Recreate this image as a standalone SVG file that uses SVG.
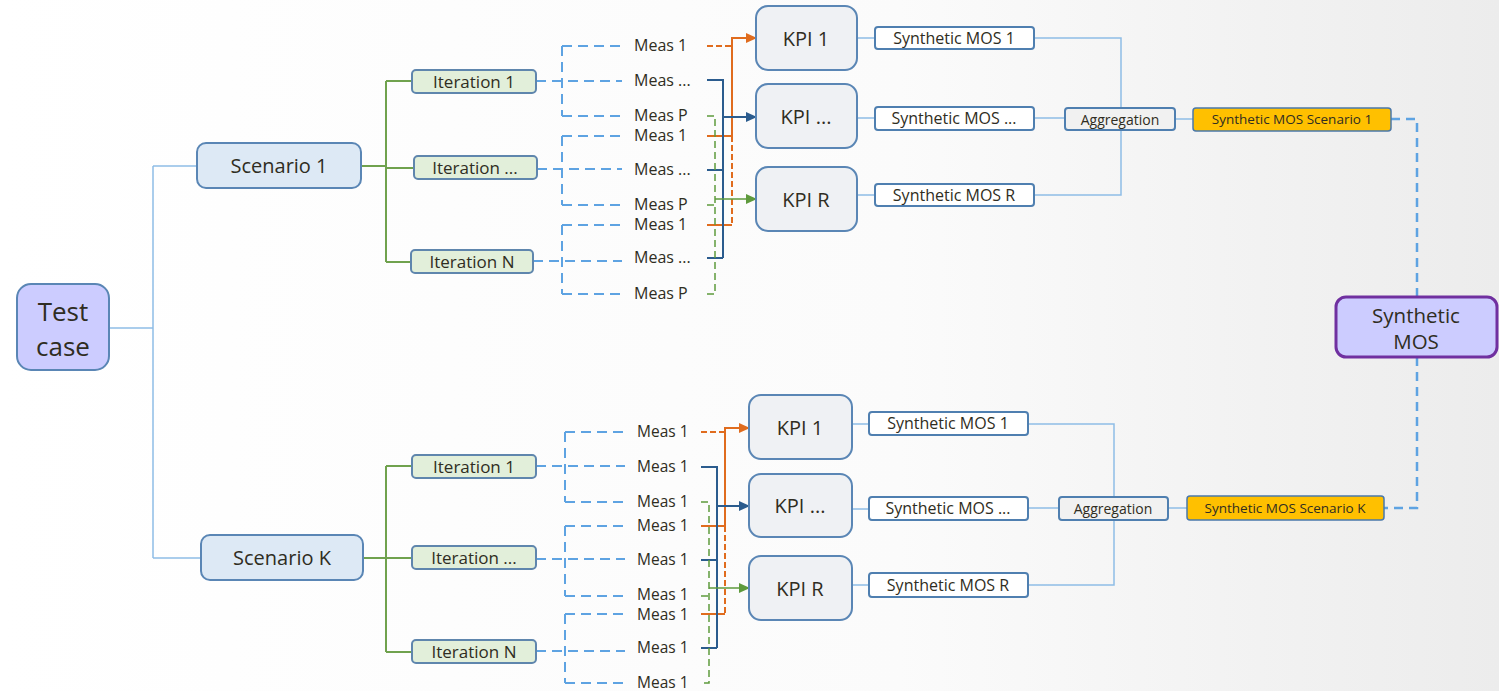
<svg xmlns="http://www.w3.org/2000/svg" width="1499" height="691" viewBox="0 0 1499 691">
<defs>
<linearGradient id="bg" x1="0" y1="0" x2="1" y2="0">
<stop offset="0" stop-color="#ffffff"/>
<stop offset="0.6" stop-color="#fbfbfb"/>
<stop offset="1" stop-color="#ececec"/>
</linearGradient>
<marker id="aO" markerUnits="userSpaceOnUse" markerWidth="11" markerHeight="10" refX="10" refY="5" orient="auto"><path d="M0,0 L11,5 L0,10 z" fill="#e06c1e"/></marker>
<marker id="aB" markerUnits="userSpaceOnUse" markerWidth="11" markerHeight="10" refX="10" refY="5" orient="auto"><path d="M0,0 L11,5 L0,10 z" fill="#2b5c8e"/></marker>
<marker id="aG" markerUnits="userSpaceOnUse" markerWidth="11" markerHeight="10" refX="10" refY="5" orient="auto"><path d="M0,0 L11,5 L0,10 z" fill="#5e9a3c"/></marker>
<style>
text{font-family:"Open Sans","Noto Sans","DejaVu Sans",sans-serif;fill:#2f2d22;text-anchor:middle;dominant-baseline:central}
.tc{fill:#ccccff;stroke:#5a86b5;stroke-width:2}
.sc{fill:#dde9f5;stroke:#5a86b5;stroke-width:2}
.it{fill:#e2efda;stroke:#5f86ad;stroke-width:2}
.kpi{fill:#eff1f4;stroke:#5a86b5;stroke-width:2}
.sm{fill:#ffffff;stroke:#4f7fb0;stroke-width:2}
.ag{fill:#f1f1f1;stroke:#4f7fb0;stroke-width:2}
.ss{fill:#ffc000;stroke:#4a78aa;stroke-width:1.5}
.fin{fill:#ccccff;stroke:#7030a0;stroke-width:3}
.lb{fill:none;stroke:#8fbde6;stroke-width:1.5}
.gr{fill:none;stroke:#70a24e;stroke-width:2}
.dsh{fill:none;stroke:#5ea3e2;stroke-width:2;stroke-dasharray:10 6}
.o{fill:none;stroke:#e06c1e;stroke-width:2}
.od{fill:none;stroke:#e06c1e;stroke-width:2;stroke-dasharray:6 3}
.b{fill:none;stroke:#2b5c8e;stroke-width:2}
.g{fill:none;stroke:#5e9a3c;stroke-width:1.5}
.gd{fill:none;stroke:#5e9a3c;stroke-width:1.5;stroke-dasharray:7 4}
.meas{font-size:16px;text-anchor:start}
.measb{font-size:15.5px;text-anchor:start}
.fdash{fill:none;stroke:#5ea3e2;stroke-width:2.5;stroke-dasharray:9 6}
</style>
</defs>
<rect width="1499" height="691" fill="url(#bg)"/>

<g id="connectors">
<path class="lb" d="M109 328 H153 M153 166 V558 M153 166 H197 M153 558 H201"/>
<path class="gr" d="M361 166 H386 M386 81 V262 M386 81 H412 M386 168 H414 M386 262 H411"/>
<path class="gr" d="M363 558 H386 M386 466 V652 M386 466 H412 M386 558 H412 M386 652 H412"/>
<path class="dsh" d="M536 81 H622 M562 46 V116 M562 46 H622 M562 116 H622"/>
<path class="dsh" d="M537 169 H622 M562 136 V205 M562 136 H622 M562 205 H622"/>
<path class="dsh" d="M533 261 H622 M562 225 V294 M562 225 H622 M562 294 H622"/>
<path class="dsh" d="M536 466 H625 M565 432 V502 M565 432 H625 M565 502 H625"/>
<path class="dsh" d="M536 559 H625 M565 526 V596 M565 526 H625 M565 596 H625"/>
<path class="dsh" d="M536 651 H625 M565 614 V683 M565 614 H625 M565 683 H625"/>
<path class="od" d="M707 46 H732 M732 136 V225"/>
<path class="o" d="M707 136 H732 M707 225 H732"/>
<path class="o" d="M732 136 V38 H756" marker-end="url(#aO)"/>
<path class="b" d="M707 80 H723 V258 M707 170 H723 M707 258 H723"/>
<path class="b" d="M723 117 H756" marker-end="url(#aB)"/>
<path class="gd" d="M707 116 H715 V294 H707 M707 205 H715"/>
<path class="g" d="M715 199 H756" marker-end="url(#aG)"/>
<path class="od" d="M701 432 H725 M725 526 V614"/>
<path class="o" d="M701 526 H725 M701 614 H725"/>
<path class="o" d="M725 526 V428 H749" marker-end="url(#aO)"/>
<path class="b" d="M701 467 H717 V648 M701 560 H717 M701 648 H717"/>
<path class="b" d="M717 506 H749" marker-end="url(#aB)"/>
<path class="gd" d="M701 502 H709 V683 H701 M701 596 H709"/>
<path class="g" d="M709 588 H749" marker-end="url(#aG)"/>
<path class="lb" d="M857 38 H875 M857 118 H875 M857 195 H875 M1034 38 H1121 V195 H1034 M1034 118 H1065 M1175 119 H1193"/>
<path class="lb" d="M852 424 H869 M852 509 H869 M852 585 H869 M1028 424 H1114 V585 H1028 M1028 508 H1059 M1168 508 H1187"/>
<path class="fdash" d="M1391 119 H1417 V297 M1417 357 V508 H1384"/>
</g>

<g id="test-case"><rect class="tc" x="17" y="284" width="92" height="86" rx="14"/><text x="63" y="311" font-size="26">Test</text><text x="63" y="346" font-size="26">case</text></g>
<g id="scenario-1"><rect class="sc" x="197" y="143" width="164" height="45" rx="9"/><text x="279" y="165" font-size="20">Scenario 1</text></g>
<g id="scenario-k"><rect class="sc" x="201" y="535" width="162" height="45" rx="9"/><text x="282" y="557" font-size="20">Scenario K</text></g>

<g id="iter-1a"><rect class="it" x="412" y="70" width="124" height="23" rx="4"/><text x="474" y="81" font-size="17">Iteration 1</text></g>
<g id="iter-2a"><rect class="it" x="414" y="156" width="123" height="23" rx="4"/><text x="475" y="167" font-size="17">Iteration ...</text></g>
<g id="iter-3a"><rect class="it" x="411" y="250" width="122" height="23" rx="4"/><text x="472" y="261" font-size="17">Iteration N</text></g>
<g id="iter-1b"><rect class="it" x="412" y="455" width="124" height="23" rx="4"/><text x="474" y="466" font-size="17">Iteration 1</text></g>
<g id="iter-2b"><rect class="it" x="412" y="546" width="124" height="23" rx="4"/><text x="474" y="557" font-size="17">Iteration ...</text></g>
<g id="iter-3b"><rect class="it" x="412" y="640" width="124" height="23" rx="4"/><text x="474" y="651" font-size="17">Iteration N</text></g>

<g id="meas-a">
<text class="meas" x="634" y="45">Meas 1</text>
<text class="meas" x="634" y="80">Meas ...</text>
<text class="meas" x="634" y="115">Meas P</text>
<text class="meas" x="634" y="135">Meas 1</text>
<text class="meas" x="634" y="169">Meas ...</text>
<text class="meas" x="634" y="204">Meas P</text>
<text class="meas" x="634" y="224">Meas 1</text>
<text class="meas" x="634" y="257">Meas ...</text>
<text class="meas" x="634" y="293">Meas P</text>
</g>
<g id="meas-b">
<text class="measb" x="637" y="431">Meas 1</text>
<text class="measb" x="637" y="466">Meas 1</text>
<text class="measb" x="637" y="501">Meas 1</text>
<text class="measb" x="637" y="525">Meas 1</text>
<text class="measb" x="637" y="559">Meas 1</text>
<text class="measb" x="637" y="594" font-size="15">Meas 1</text>
<text class="measb" x="637" y="614" font-size="15">Meas 1</text>
<text class="measb" x="637" y="647">Meas 1</text>
<text class="measb" x="637" y="682">Meas 1</text>
</g>

<g id="kpi-1a"><rect class="kpi" x="756" y="6" width="101" height="64" rx="12"/><text x="806" y="38" font-size="20">KPI 1</text></g>
<g id="kpi-2a"><rect class="kpi" x="756" y="84" width="101" height="64" rx="12"/><text x="806" y="116" font-size="20">KPI ...</text></g>
<g id="kpi-3a"><rect class="kpi" x="756" y="167" width="101" height="64" rx="12"/><text x="806" y="199" font-size="20">KPI R</text></g>
<g id="kpi-1b"><rect class="kpi" x="749" y="395" width="103" height="64" rx="12"/><text x="800" y="427" font-size="20">KPI 1</text></g>
<g id="kpi-2b"><rect class="kpi" x="749" y="474" width="103" height="63" rx="12"/><text x="800" y="505" font-size="20">KPI ...</text></g>
<g id="kpi-3b"><rect class="kpi" x="749" y="556" width="103" height="64" rx="12"/><text x="800" y="588" font-size="20">KPI R</text></g>

<g id="smos-1a"><rect class="sm" x="875" y="27" width="159" height="22" rx="3"/><text x="954" y="38" font-size="16">Synthetic MOS 1</text></g>
<g id="smos-2a"><rect class="sm" x="875" y="107" width="159" height="23" rx="3"/><text x="954" y="118" font-size="16">Synthetic MOS ...</text></g>
<g id="smos-3a"><rect class="sm" x="875" y="184" width="159" height="22" rx="3"/><text x="954" y="195" font-size="16">Synthetic MOS R</text></g>
<g id="smos-1b"><rect class="sm" x="869" y="412" width="159" height="23" rx="3"/><text x="948" y="423" font-size="16">Synthetic MOS 1</text></g>
<g id="smos-2b"><rect class="sm" x="869" y="497" width="159" height="23" rx="3"/><text x="948" y="508" font-size="16">Synthetic MOS ...</text></g>
<g id="smos-3b"><rect class="sm" x="869" y="573" width="159" height="24" rx="3"/><text x="948" y="585" font-size="16">Synthetic MOS R</text></g>

<g id="agg-a"><rect class="ag" x="1065" y="108" width="110" height="22" rx="3"/><text x="1120" y="119" font-size="14">Aggregation</text></g>
<g id="agg-b"><rect class="ag" x="1059" y="497" width="109" height="23" rx="3"/><text x="1113" y="508" font-size="14">Aggregation</text></g>

<g id="smos-scenario-1"><rect class="ss" x="1193" y="108" width="198" height="23" rx="3"/><text x="1292" y="119" font-size="13.5">Synthetic MOS Scenario 1</text></g>
<g id="smos-scenario-k"><rect class="ss" x="1187" y="496" width="197" height="24" rx="3"/><text x="1285" y="508" font-size="13.5">Synthetic MOS Scenario K</text></g>

<g id="synthetic-mos"><rect class="fin" x="1336" y="297" width="161" height="60" rx="10"/><text x="1416" y="315" font-size="20.5">Synthetic</text><text x="1416" y="341" font-size="20.5">MOS</text></g>
</svg>
